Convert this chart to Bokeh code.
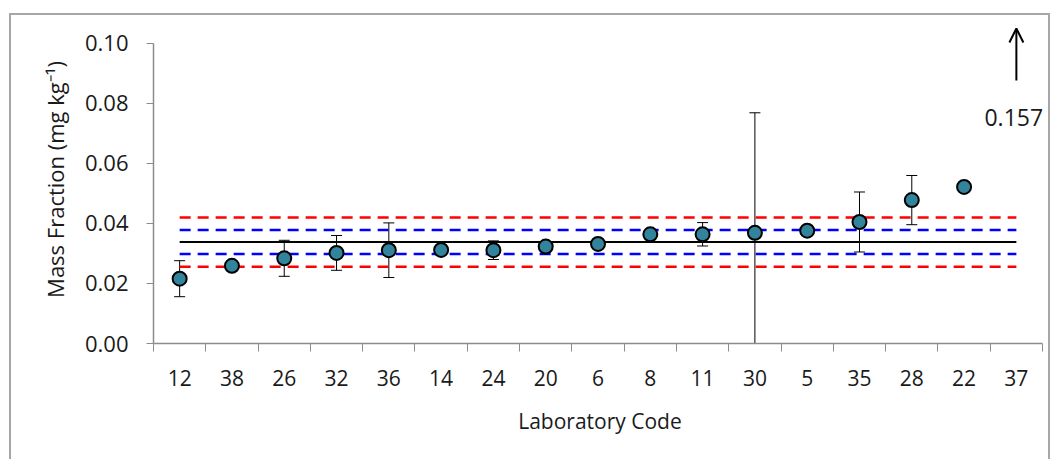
from bokeh.plotting import figure
from bokeh.models import (Range1d, FixedTicker, NumeralTickFormatter, Whisker, TeeHead,
                          ColumnDataSource, Arrow, OpenHead, Label)
from bokeh.embed import file_html
from bokeh.resources import INLINE

# ---- data ----
labs = ["12", "38", "26", "32", "36", "14", "24", "20", "6", "8", "11", "30", "5", "35", "28", "22", "37"]
values = [0.0216, 0.0259, 0.0284, 0.0302, 0.0311, 0.0312, 0.0311, 0.0323, 0.0332, 0.0364,
          0.0364, 0.0369, 0.0376, 0.0405, 0.0478, 0.0522, 0.157]
uncert = [0.0060, 0.0, 0.0060, 0.0058, 0.0091, 0.0, 0.0031, 0.0, 0.0, 0.0,
          0.0039, 0.0400, 0.0, 0.0100, 0.0082, 0.0, 0.0]
assigned = 0.0338
blue_band = [0.0298, 0.0378]
red_band = [0.0256, 0.0420]
yticks = [0.0, 0.02, 0.04, 0.06, 0.08, 0.10]
offscale_label = "0.157"
offscale_arrow = [0.0877, 0.105]
offscale_label_y = 0.0753

n = len(labs)
centers = [i + 0.5 for i in range(n)]
bounds = [float(i) for i in range(n + 1)]
ymax = yticks[-1]

W, H = 1037, 446
p = figure(width=W, height=H, output_backend="svg", toolbar_location=None,
           x_range=Range1d(0, 17.076), y_range=Range1d(0, 0.10933),
           min_border_left=142, min_border_right=2, min_border_top=0, min_border_bottom=118)
# outer chart-area frame (top, left, right edges) drawn around the figure
p.styles = {"margin-left": "11px", "margin-top": "15px",
            "box-shadow": "-2px -2px 0px 0px #a6a6a6, 2px -2px 0px 0px #a6a6a6"}
p.outline_line_color = None
p.xgrid.grid_line_color = None
p.ygrid.grid_line_color = None

axis_col = "#8c8c8c"
xa = p.xaxis[0]
xa.bounds = (0, n)
xa.ticker = FixedTicker(ticks=centers, minor_ticks=bounds)
xa.major_label_overrides = {c: l for c, l in zip(centers, labs)}
xa.major_tick_out = 0
xa.major_tick_in = 0
xa.minor_tick_out = 8
xa.minor_tick_in = 0
xa.minor_tick_line_color = axis_col
xa.axis_line_color = axis_col
xa.axis_line_width = 1.5
xa.major_label_text_font = "Open Sans"
xa.major_label_text_font_size = "21px"
xa.major_label_text_color = "#1a1a1a"
xa.major_label_standoff = 18
xa.axis_label = "Laboratory Code"
xa.axis_label_text_font = "Open Sans"
xa.axis_label_text_font_size = "21px"
xa.axis_label_text_font_style = "normal"
xa.axis_label_text_color = "#1a1a1a"
xa.axis_label_standoff = 18

ya = p.yaxis[0]
ya.bounds = (0, ymax)
ya.ticker = FixedTicker(ticks=yticks, minor_ticks=[])
ya.formatter = NumeralTickFormatter(format="0.00")
ya.major_tick_out = 7
ya.major_tick_in = 0
ya.major_tick_line_color = axis_col
ya.axis_line_color = axis_col
ya.axis_line_width = 1.5
ya.major_label_text_font = "Open Sans"
ya.major_label_text_font_size = "22px"
ya.major_label_text_color = "#1a1a1a"
ya.major_label_standoff = 18
ya.axis_label = "Mass Fraction (mg kg\u207b\u00b9)"
ya.axis_label_text_font = "Open Sans"
ya.axis_label_text_font_size = "22px"
ya.axis_label_text_font_style = "normal"
ya.axis_label_text_color = "#1a1a1a"
ya.axis_label_standoff = 12

xs_line = [centers[0], centers[-1]]
for v in red_band:
    p.line(xs_line, [v, v], line_color="#ff0000", line_width=2.5, line_dash="11 7")
for v in blue_band:
    p.line(xs_line, [v, v], line_color="#0000ff", line_width=2.5, line_dash="11 7")
p.line(xs_line, [assigned, assigned], line_color="#000000", line_width=2)

ex, lo, hi = [], [], []
for c, v, u in zip(centers, values, uncert):
    if u > 0:
        ex.append(c)
        lo.append(max(v - u, 0.0))
        hi.append(v + u)
esrc = ColumnDataSource(dict(x=ex, lower=lo, upper=hi))
p.add_layout(Whisker(source=esrc, base="x", upper="upper", lower="lower",
                     line_color="#000000", line_width=1,
                     upper_head=TeeHead(size=11, line_color="#000000", line_width=1),
                     lower_head=TeeHead(size=11, line_color="#000000", line_width=1)))

vis = [(c, v) for c, v in zip(centers, values) if v <= ymax]
src = ColumnDataSource(dict(x=[a for a, _ in vis], y=[b for _, b in vis]))
p.scatter("x", "y", source=src, size=14, fill_color="#31849B", line_color="#000000", line_width=2)

p.add_layout(Arrow(end=OpenHead(size=14, line_width=2, line_color="#000000"),
                   x_start=centers[-1], y_start=offscale_arrow[0],
                   x_end=centers[-1], y_end=offscale_arrow[1],
                   line_width=2, line_color="#000000"))
p.add_layout(Label(x=centers[-1] - 0.05, y=offscale_label_y, text=offscale_label, text_align="center",
                   text_baseline="middle", text_font="Open Sans", text_font_size="23px",
                   text_color="#1a1a1a"))

open("out.html", "w").write(file_html(p, INLINE))
